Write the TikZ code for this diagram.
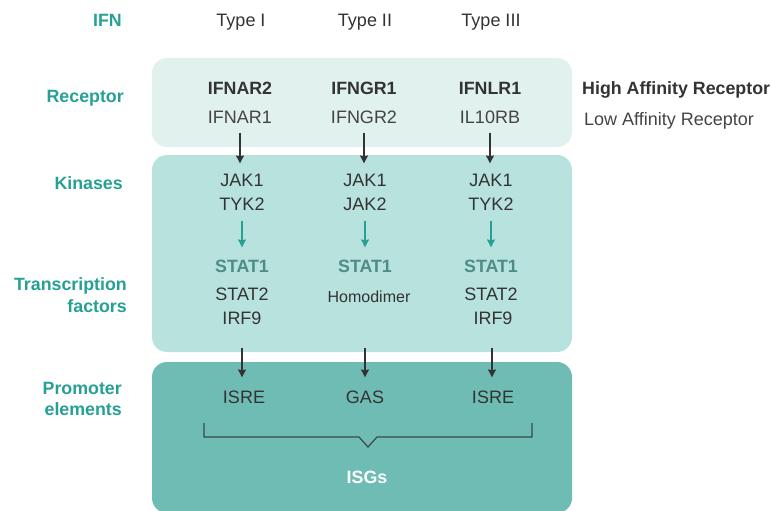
\documentclass[tikz,border=0pt]{standalone}
\usepackage{fontspec}
\setmainfont{Liberation Sans}
\usetikzlibrary{arrows.meta}
\definecolor{ink}{HTML}{333333}
\definecolor{inksoft}{HTML}{444444}
\definecolor{tealtxt}{HTML}{26A095}
\definecolor{statc}{HTML}{4F8C87}
\definecolor{boxA}{HTML}{E1F1EE}
\definecolor{boxB}{HTML}{B8E2DD}
\definecolor{boxC}{HTML}{6FBCB4}
\definecolor{bracec}{HTML}{3A4A48}
\begin{document}
\begin{tikzpicture}[x=1pt,y=-1pt,
  txt/.style={inner sep=0pt, text height=12.8pt, text depth=0pt,
    font=\fontsize{18}{21}\selectfont, text=ink},
  bold/.style={txt, font=\fontsize{17.8}{21}\selectfont\bfseries},
  lbl/.style={bold, anchor=east, text=tealtxt},
  stat/.style={bold, text=statc},
  band/.style={rounded corners=15pt, draw=none},
  arr/.style={-{Stealth[length=8pt,width=8pt,inset=1pt]}, line width=1.3pt, draw=ink},
  tarr/.style={arr, draw=tealtxt, line width=1.1pt}]
\useasboundingbox (0,0) rectangle (772,511);

% background bands
\fill[boxA, band] (152,58) rectangle (572,147);
\fill[boxB, band] (152,155) rectangle (572,352);
\begin{scope}
\clip (0,0) rectangle (772,511);
\fill[boxC, band] (152,362) rectangle (572,513);
\end{scope}

% row labels
\node[lbl] (lIFN) at (122,20) {IFN};
\node[lbl] (lRec) at (124,96) {Receptor};
\node[lbl] (lKin) at (123,183) {Kinases};
\node[lbl] (lTr1) at (127,284) {Transcription};
\node[lbl] (lTr2) at (127,306) {factors};
\node[lbl] (lPr1) at (122,388) {Promoter};
\node[lbl] (lPr2) at (122,409) {elements};

% column headers
\node[txt] (h1) at (241,20) {Type I};
\node[txt] (h2) at (365,20) {Type II};
\node[txt] (h3) at (491,20) {Type III};

% receptors
\node[bold] (r1a) at (240,88) {IFNAR2};
\node[txt, text=inksoft] (r1b) at (240,117) {IFNAR1};
\node[bold] (r2a) at (364,88) {IFNGR1};
\node[txt, text=inksoft] (r2b) at (364,117) {IFNGR2};
\node[bold] (r3a) at (490,88) {IFNLR1};
\node[txt, text=inksoft] (r3b) at (490,117) {IL10RB};

\node[bold, anchor=west] (hiA) at (582,88) {High Affinity Receptor};
\node[txt, anchor=west, text=inksoft] (loA) at (584,119) {Low Affinity Receptor};

% kinases
\node[txt] (k1a) at (242,180) {JAK1};
\node[txt] (k1b) at (242,204) {TYK2};
\node[txt] (k2a) at (365,180) {JAK1};
\node[txt] (k2b) at (365,204) {JAK2};
\node[txt] (k3a) at (491,180) {JAK1};
\node[txt] (k3b) at (491,204) {TYK2};

% transcription factors
\node[stat] (s1a) at (242,266) {STAT1};
\node[txt] (s1b) at (242,294) {STAT2};
\node[txt] (s1c) at (242,318) {IRF9};
\node[stat] (s2a) at (365,266) {STAT1};
\node[txt, text height=11.5pt, font=\fontsize{16}{19}\selectfont] (s2b) at (369,297) {Homodimer};
\node[stat] (s3a) at (491,266) {STAT1};
\node[txt] (s3b) at (491,294) {STAT2};
\node[txt] (s3c) at (493,318) {IRF9};

% promoter elements
\node[txt] (e1) at (244,397) {ISRE};
\node[txt] (e2) at (365,397) {GAS};
\node[txt] (e3) at (493,397) {ISRE};

\node[bold, text=white] (isg) at (367,477) {ISGs};

% receptor -> kinase
\draw[arr, shorten <=9pt, shorten >=10pt] (r1b.south) -- (r1b.south |- k1a.north);
\draw[arr, shorten <=9pt, shorten >=10pt] (r2b.south) -- (r2b.south |- k2a.north);
\draw[arr, shorten <=9pt, shorten >=10pt] (r3b.south) -- (r3b.south |- k3a.north);

% kinase -> STAT
\draw[tarr, shorten <=10pt, shorten >=12pt] (k1b.south) -- (s1a.north);
\draw[tarr, shorten <=10pt, shorten >=12pt] (k2b.south) -- (s2a.north);
\draw[tarr, shorten <=10pt, shorten >=12pt] (k3b.south) -- (s3a.north);

% transcription factor -> promoter
\draw[arr, shorten <=23pt, shorten >=13pt] (s1c.south) -- (s1c.south |- e1.north);
\draw[arr, shorten <=45pt, shorten >=13pt] (s2b.south -| e2.north) -- (e2.north);
\draw[arr, shorten <=23pt, shorten >=13pt] (s3c.south -| 492,0) -- (492,0 |- e3.north);

% bracket gathering the promoter elements
\coordinate (bl) at (204,423);
\coordinate (br) at (532,423);
\coordinate (tip) at (368,447);
\draw[bracec, line width=1.2pt, line join=miter]
  (bl) -- (204,437) -- (359,437) -- (tip) -- (377,437) -- (532,437) -- (br);
\end{tikzpicture}
\end{document}
